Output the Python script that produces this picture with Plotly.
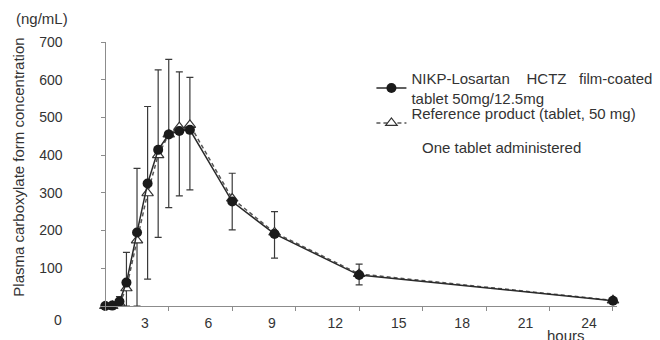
import plotly.graph_objects as go

# ---- data ----
hours = [0, 0.33, 0.67, 1, 1.5, 2, 2.5, 3, 3.5, 4, 6, 8, 12, 24]
test_mean = [0, 1, 12, 62, 195, 325, 414, 455, 464, 467, 277, 191, 82, 14]
test_sd_up = [0, 0, 13, 80, 170, 204, 212, 199, 157, 139, 75, 59, 29, 0]
ref_mean = [0, 0, 7, 47, 174, 299, 400, 455, 474, 480, 285, 195, 85, 15]
ref_sd_down = [0, 0, 7, 47, 174, 228, 218, 194, 182, 172, 83, 68, 29, 0]

x_ticks = [0, 3, 6, 9, 12, 15, 18, 21, 24]
x_tick_labels = ["", "3", "6", "9", "12", "15", "18", "21", "24"]
y_ticks = [100, 200, 300, 400, 500, 600, 700]

test_name = ("NIKP-Losartan\u00a0\u00a0\u00a0\u00a0HCTZ\u00a0\u00a0\u00a0film-coated"
             "<br>tablet 50mg/12.5mg")
ref_name = "Reference product (tablet, 50 mg)<br>\u00a0"

X_RANGE = [-0.25, 24.19]
LABEL_SHIFT = 1.13  # tick labels in the reference sit left of their tick marks

FONT = "Liberation Sans, Arial, sans-serif"
AXIS_COLOR = "#8c8c8c"
TEXT_COLOR = "#333333"

fig = go.Figure()

# error bars (test: upward, reference: downward)
fig.add_trace(go.Scatter(
    x=hours, y=test_mean, mode="markers", showlegend=False, hoverinfo="skip",
    marker=dict(size=1, color="rgba(0,0,0,0)"),
    error_y=dict(type="data", symmetric=False, array=test_sd_up,
                 arrayminus=[0] * len(hours), color="#3a3a3a",
                 thickness=1.2, width=3.5),
))
fig.add_trace(go.Scatter(
    x=hours, y=ref_mean, mode="markers", showlegend=False, hoverinfo="skip",
    marker=dict(size=1, color="rgba(0,0,0,0)"),
    error_y=dict(type="data", symmetric=False, array=[0] * len(hours),
                 arrayminus=ref_sd_down, color="#3a3a3a",
                 thickness=1.2, width=3.5),
))

# reference product (dashed, open triangles)
fig.add_trace(go.Scatter(
    x=hours, y=ref_mean, mode="lines+markers", name=ref_name,
    line=dict(color="#555555", width=1.5, dash="4px,3px"),
    marker=dict(symbol="triangle-up", size=10, color="white",
                line=dict(color="#333333", width=1.2)),
    cliponaxis=False, legend="legend2",
))
# test product (solid, filled circles)
fig.add_trace(go.Scatter(
    x=hours, y=test_mean, mode="lines+markers", name=test_name,
    line=dict(color="#2a2a2a", width=1.5),
    marker=dict(symbol="circle", size=10, color="#1a1a1a"),
    cliponaxis=False, legend="legend",
))

y_pos = (0 - X_RANGE[0]) / (X_RANGE[1] - X_RANGE[0])

legend_style = dict(xanchor="left", yanchor="top", xref="paper", yref="paper",
                    bgcolor="rgba(0,0,0,0)", font=dict(size=15, color=TEXT_COLOR),
                    itemclick=False, itemdoubleclick=False)

# the page body adds an 8px offset, so the figure is 8px smaller than the window
fig.update_layout(
    width=652, height=332,
    margin=dict(l=92, r=43, t=34, b=34, autoexpand=False),
    paper_bgcolor="white", plot_bgcolor="white",
    font=dict(family=FONT, size=15, color=TEXT_COLOR),
    showlegend=True,
    legend=dict(x=0.525, y=0.924, **legend_style),
    legend2=dict(x=0.525, y=0.792, **legend_style),
    xaxis=dict(
        range=X_RANGE, tickvals=x_ticks, showticklabels=False,
        ticks="outside", ticklen=4, tickcolor=AXIS_COLOR,
        showline=True, linecolor=AXIS_COLOR, linewidth=1,
        showgrid=False, zeroline=False, anchor="y",
    ),
    xaxis2=dict(
        range=X_RANGE, overlaying="x", anchor="y", side="bottom",
        tickvals=[v - LABEL_SHIFT for v in x_ticks], ticktext=x_tick_labels,
        ticks="outside", ticklen=4, tickcolor="rgba(0,0,0,0)",
        showline=False, showgrid=False, zeroline=False,
        tickfont=dict(size=14, color=TEXT_COLOR),
    ),
    yaxis=dict(
        range=[0, 700], tickvals=y_ticks,
        ticks="outside", ticklen=4, tickcolor=AXIS_COLOR,
        showline=True, linecolor=AXIS_COLOR, linewidth=1,
        showgrid=False, zeroline=False,
        anchor="free", position=y_pos,
        ticklabelstandoff=36,
        tickfont=dict(size=14, color=TEXT_COLOR),
    ),
)

# invisible trace so that the label axis is drawn
fig.add_trace(go.Scatter(x=[X_RANGE[0]], y=[0], xaxis="x2", mode="markers",
                         marker=dict(size=1, color="rgba(0,0,0,0)"),
                         showlegend=False, hoverinfo="skip"))

fig.add_annotation(text="Plasma carboxylate form concentration", textangle=-90,
                   xref="paper", yref="paper", x=-0.157, y=0.527,
                   xanchor="center", yanchor="middle", showarrow=False,
                   font=dict(size=15, color=TEXT_COLOR))
fig.add_annotation(text="(ng/mL)", xref="paper", yref="paper",
                   x=-0.112, y=1.09, xanchor="center", yanchor="middle",
                   showarrow=False, font=dict(size=15, color=TEXT_COLOR))
fig.add_annotation(text="0", xref="paper", yref="paper",
                   x=-0.082, y=-0.053, xanchor="center", yanchor="middle",
                   showarrow=False, font=dict(size=14, color=TEXT_COLOR))
fig.add_annotation(text="hours", xref="paper", yref="paper",
                   x=0.901, y=-0.11, xanchor="center", yanchor="middle",
                   showarrow=False, font=dict(size=15, color=TEXT_COLOR))
fig.add_annotation(text="One tablet administered", xref="paper", yref="paper",
                   x=0.776, y=0.602, xanchor="center", yanchor="middle",
                   showarrow=False, font=dict(size=15, color=TEXT_COLOR))

fig.write_html("out.html")
